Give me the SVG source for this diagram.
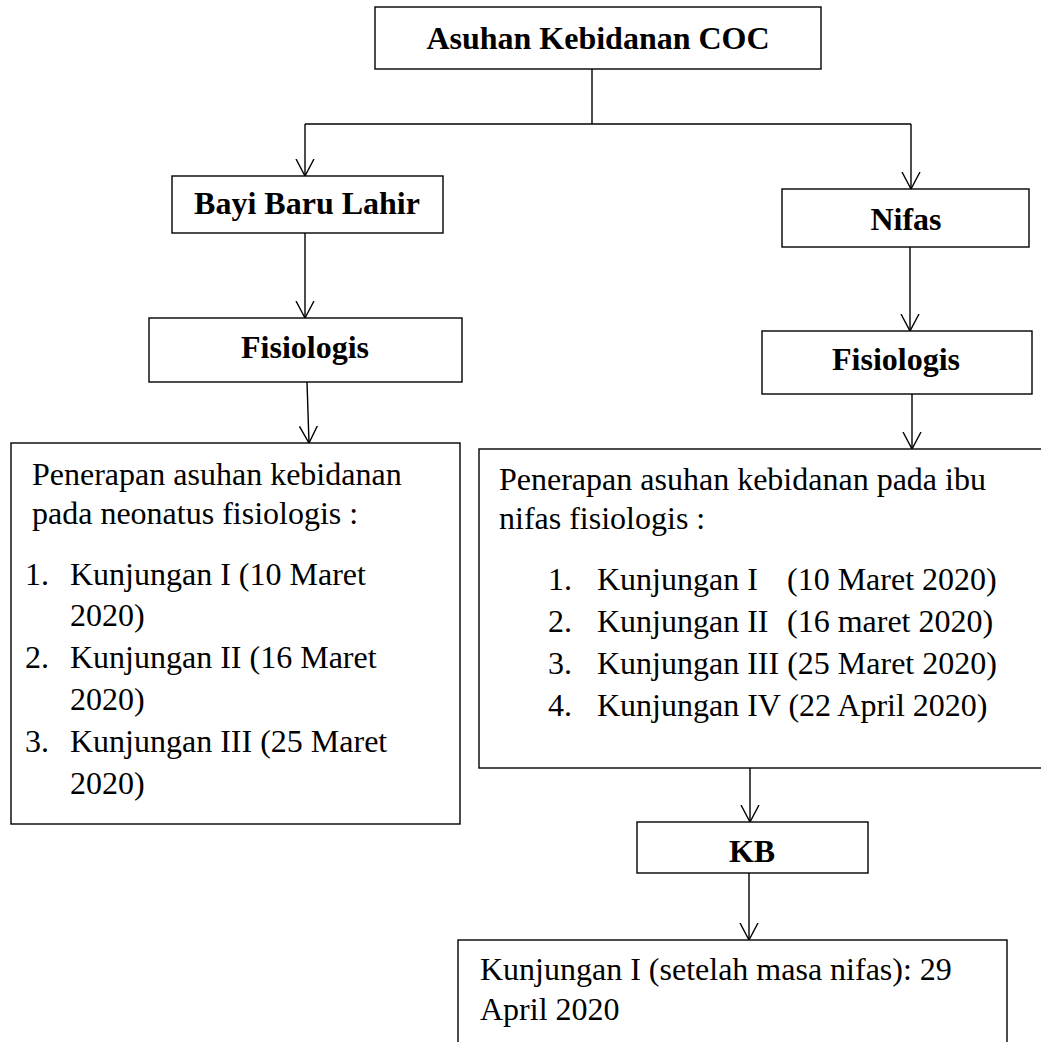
<svg xmlns="http://www.w3.org/2000/svg" width="1041" height="1042" viewBox="0 0 1041 1042">
<defs>
<style>
.box{fill:#fff;stroke:#000;stroke-width:1.4}
.b{font-family:"Liberation Serif","Times New Roman",serif;font-weight:bold;font-size:32px;fill:#000;text-anchor:middle}
.t{font-family:"Liberation Serif","Times New Roman",serif;font-size:32px;fill:#000}
.c{fill:none;stroke:#000;stroke-width:1.4}
</style>
<marker id="v" viewBox="0 0 18 20" refX="17" refY="10" markerWidth="18" markerHeight="20" orient="auto" markerUnits="userSpaceOnUse">
<path d="M0,1 L17,10 L0,19" fill="none" stroke="#000" stroke-width="1.4"/>
</marker>
</defs>
<rect width="1041" height="1042" fill="#fff"/>
<g id="connectors">
<path class="c" d="M592,69 V124"/>
<path class="c" d="M305,124 H911"/>
<path class="c" d="M305,124 V176" marker-end="url(#v)"/>
<path class="c" d="M911,124 V189" marker-end="url(#v)"/>
<path class="c" d="M305,233 V318" marker-end="url(#v)"/>
<path class="c" d="M307,382 L309,443" marker-end="url(#v)"/>
<path class="c" d="M910,247 V331" marker-end="url(#v)"/>
<path class="c" d="M912,394 V449" marker-end="url(#v)"/>
<path class="c" d="M750,762 V822" marker-end="url(#v)"/>
<path class="c" d="M749,873 V940" marker-end="url(#v)"/>
</g>
<g id="node-coc">
<rect class="box" x="375" y="7" width="446" height="62"/>
<text class="b" x="598" y="49">Asuhan Kebidanan COC</text>
</g>
<g id="node-bbl">
<rect class="box" x="172" y="176" width="271" height="57"/>
<text class="b" x="307" y="214">Bayi Baru Lahir</text>
</g>
<g id="node-nifas">
<rect class="box" x="782" y="189" width="247" height="58"/>
<text class="b" x="906" y="230">Nifas</text>
</g>
<g id="node-fis-left">
<rect class="box" x="149" y="318" width="313" height="64"/>
<text class="b" x="305" y="358">Fisiologis</text>
</g>
<g id="node-fis-right">
<rect class="box" x="762" y="331" width="270" height="63"/>
<text class="b" x="896" y="370">Fisiologis</text>
</g>
<g id="node-neonatus">
<rect class="box" x="11" y="443" width="449" height="381"/>
<text class="t" x="32" y="485">Penerapan asuhan kebidanan</text>
<text class="t" x="32" y="524">pada neonatus fisiologis :</text>
<text class="t" x="25" y="585">1.</text>
<text class="t" x="70" y="585">Kunjungan I (10 Maret</text>
<text class="t" x="70" y="626">2020)</text>
<text class="t" x="25" y="668">2.</text>
<text class="t" x="70" y="668">Kunjungan II (16 Maret</text>
<text class="t" x="70" y="710">2020)</text>
<text class="t" x="25" y="752">3.</text>
<text class="t" x="70" y="752">Kunjungan III (25 Maret</text>
<text class="t" x="70" y="794">2020)</text>
</g>
<g id="node-ibu-nifas">
<rect class="box" x="479" y="449" width="600" height="319"/>
<text class="t" x="499" y="490">Penerapan asuhan kebidanan pada ibu</text>
<text class="t" x="499" y="529">nifas fisiologis :</text>
<text class="t" x="548" y="590">1.</text>
<text class="t" x="597" y="590">Kunjungan I</text>
<text class="t" x="787" y="590">(10 Maret 2020)</text>
<text class="t" x="548" y="632">2.</text>
<text class="t" x="597" y="632">Kunjungan II</text>
<text class="t" x="787" y="632">(16 maret 2020)</text>
<text class="t" x="548" y="674">3.</text>
<text class="t" x="597" y="674">Kunjungan III (25 Maret 2020)</text>
<text class="t" x="548" y="716">4.</text>
<text class="t" x="597" y="716">Kunjungan IV (22 April 2020)</text>
</g>
<g id="node-kb">
<rect class="box" x="637" y="822" width="231" height="51"/>
<text class="b" x="752" y="862">KB</text>
</g>
<g id="node-kb-visit">
<rect class="box" x="458" y="940" width="549" height="140"/>
<text class="t" x="480" y="980">Kunjungan I (setelah masa nifas): 29</text>
<text class="t" x="480" y="1020">April 2020</text>
</g>
</svg>
